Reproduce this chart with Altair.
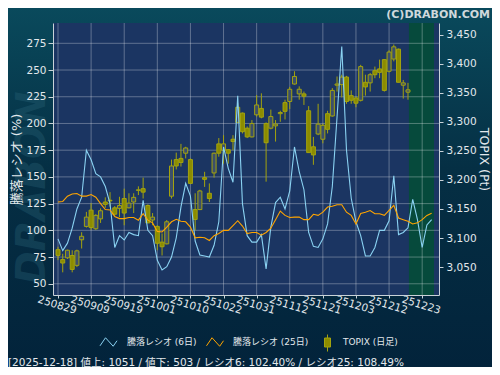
import altair as alt
import pandas as pd

# ---------------- data ----------------
DATE_LABELS = ["250829", "250909", "250919", "251001", "251010", "251022",
               "251031", "251112", "251121", "251203", "251212", "251223"]
TICK_STEP = 7

ratio6 = [92, 81, 88, 102, 120, 131, 175, 166, 153, 150,
          141, 125, 84, 95, 91, 98, 96, 95, 128, 100,
          95, 72, 63, 66, 75, 93, 122, 144, 132, 90,
          77, 76, 75, 86, 108, 178, 158, 145, 226, 125,
          95, 89, 89, 96, 64, 103, 126, 131, 120, 137,
          178, 155, 138, 98, 85, 84, 92, 106, 141, 206,
          272, 175, 130, 108, 95, 76, 76, 84, 100, 100,
          109, 151, 96, 98, 102.4, 129, 110, 84, 105, 110]

ratio25 = [126.5, 127, 132, 134, 134.5, 132, 132, 133.5, 131, 125,
           119.5, 119, 113, 111, 111, 112, 112, 109.5, 115.5, 109.5,
           107, 99, 98.5, 103, 108, 110.3, 108.5, 108, 103, 93,
           93.5, 93, 90.5, 95, 97, 100, 100, 104.5, 109, 104,
           97, 98, 98, 95.5, 98, 102, 110, 118, 114, 112,
           112.4, 112.4, 110, 110, 115, 114, 117, 121.8, 122.5, 124,
           124, 117, 114, 106, 115.8, 117, 118.5, 115.5, 115.5, 114,
           118.7, 123.4, 111.5, 110, 108.49, 106, 107, 110, 114, 116]

t_open = [3080, 3063, 3066, 3070, 3053, 3097, 3120, 3148, 3116, 3133,
          3162, 3165, 3152, 3151, 3168, 3152, 3162, 3182, 3185, 3156,
          3131, 3120, 3093, 3090, 3172, 3235, 3237, 3246, 3235, 3149,
          3149, 3204, 3177, 3212, 3262, 3251, 3252, 3270, 3299, 3315,
          3289, 3274, 3312, 3323, 3297, 3289, 3293, 3314, 3333, 3335,
          3365, 3348, 3348, 3319, 3257, 3279, 3270, 3314, 3310, 3363,
          3364, 3377, 3345, 3341, 3337, 3368, 3367, 3388, 3391, 3407,
          3387, 3408, 3425, 3363, 3351]
t_high = [3085, 3073, 3080, 3079, 3080, 3110, 3145, 3160, 3141, 3151,
          3170, 3179, 3155, 3171, 3185, 3177, 3177, 3189, 3204, 3158,
          3143, 3122, 3108, 3131, 3235, 3247, 3262, 3257, 3237, 3177,
          3183, 3214, 3194, 3247, 3272, 3277, 3253, 3277, 3332, 3316,
          3292, 3303, 3346, 3349, 3299, 3321, 3303, 3319, 3338, 3360,
          3387, 3361, 3352, 3327, 3274, 3331, 3297, 3319, 3358, 3378,
          3381, 3379, 3354, 3344, 3398, 3381, 3384, 3395, 3407, 3408,
          3423, 3433, 3426, 3372, 3367]
t_low = [3062, 3041, 3064, 3041, 3050, 3082, 3118, 3114, 3114, 3126,
         3152, 3154, 3139, 3136, 3122, 3151, 3143, 3174, 3168, 3126,
         3122, 3079, 3070, 3089, 3168, 3218, 3223, 3237, 3194, 3113,
         3148, 3188, 3162, 3204, 3240, 3228, 3228, 3251, 3298, 3280,
         3272, 3273, 3309, 3306, 3197, 3287, 3266, 3300, 3304, 3322,
         3364, 3338, 3329, 3247, 3226, 3277, 3263, 3280, 3309, 3352,
         3342, 3331, 3331, 3325, 3335, 3345, 3352, 3375, 3375, 3352,
         3385, 3404, 3368, 3340, 3338]
t_close = [3070, 3057, 3079, 3046, 3078, 3103, 3136, 3118, 3139, 3147,
           3158, 3164, 3141, 3156, 3143, 3160, 3170, 3183, 3179, 3126,
           3136, 3091, 3085, 3128, 3224, 3224, 3230, 3255, 3194, 3132,
           3181, 3201, 3168, 3246, 3246, 3262, 3246, 3266, 3325, 3283,
           3274, 3297, 3329, 3308, 3264, 3309, 3296, 3316, 3318, 3356,
           3378, 3356, 3344, 3247, 3243, 3296, 3294, 3287, 3354, 3365,
           3377, 3335, 3337, 3332, 3395, 3360, 3381, 3381, 3385, 3354,
           3420, 3429, 3368, 3367, 3355]

future_zone = [74.2, 79.5]
left_ticks = [50, 75, 100, 125, 150, 175, 200, 225, 250, 275]
right_ticks = [3050, 3100, 3150, 3200, 3250, 3300, 3350, 3400, 3450]
x_ticks = [i * TICK_STEP for i in range(len(DATE_LABELS))]

legend_labels = ["騰落レシオ (6日)", "騰落レシオ (25日)", "TOPIX (日足)"]
COPYRIGHT = "(C)DRABON.COM"
FOOTER = "[2025-12-18]  値上: 1051 / 値下: 503 / レシオ6: 102.40% / レシオ25: 108.49%"

# ---------------- styles ----------------
W, H = 386, 272
FONT = "DejaVu Sans, Noto Sans CJK JP"
C_BLUE = "#8ad2f2"
C_ORANGE = "#ffa500"
C_OLIVE = "#8c8c00"
C_OLIVE_EDGE = "#a3a30e"
C_TEXT = "#e2e8ec"
C_AXIS = "#c9d2d8"
C_PLOT = "#1b3562"
C_ZONE = "#064a3c"

lines_df = pd.DataFrame({"idx": list(range(len(ratio6))), "r6": ratio6, "r25": ratio25})
candle_df = pd.DataFrame({"idx": list(range(len(t_open))), "open": t_open,
                          "high": t_high, "low": t_low, "close": t_close})
candle_df["up"] = candle_df["close"] >= candle_df["open"]
zone_df = pd.DataFrame({"start": [future_zone[0]], "end": [future_zone[1]]})
xt_df = pd.DataFrame({"tick": x_ticks})
yt_df = pd.DataFrame({"val": left_ticks})
one = pd.DataFrame({"k": [0]})

xscale = alt.Scale(domain=[0, 79.5], nice=False, zero=False)
yL = alt.Scale(domain=[39.5, 294], nice=False, zero=False)
yR = alt.Scale(domain=[3002, 3470], nice=False, zero=False)

label_expr = "[" + ",".join("'%s'" % s for s in DATE_LABELS) + "][round(datum.value / %d)]" % TICK_STEP
x_axis = alt.Axis(values=x_ticks, labelExpr=label_expr, labelAngle=17, labelAlign="center",
                  labelBaseline="top", labelPadding=2, tickSize=3, grid=False, title=None,
                  labelFontSize=10.5, labelOverlap=False, labelFlush=False, zindex=1)

def X(field):
    return alt.X(field, type="quantitative", scale=xscale, axis=x_axis)

bg = alt.Chart(one).mark_rect(
    color=alt.Gradient(gradient="linear", x1=0, y1=0, x2=0, y2=1,
                       stops=[alt.GradientStop(color="#0a4c5e", offset=0),
                              alt.GradientStop(color="#052f44", offset=0.45),
                              alt.GradientStop(color="#02223a", offset=1)])
).encode(x=alt.value(-53), x2=alt.value(W + 70), y=alt.value(-30), y2=alt.value(H + 90))

watermark = alt.Chart(one).mark_text(
    text="DRABON", angle=270, font="DejaVu Sans", fontSize=40, fontWeight="bold",
    fontStyle="italic", color="#2a6478", opacity=0.35
).encode(x=alt.value(-20), y=alt.value(165))

plotbg = alt.Chart(one).mark_rect(color=C_PLOT).encode(
    x=alt.value(0), x2=alt.value(W), y=alt.value(0), y2=alt.value(H))

zone = alt.Chart(zone_df).mark_rect(color=C_ZONE).encode(
    x=X("start"), x2="end", y=alt.value(0), y2=alt.value(H))

vgrid = alt.Chart(xt_df).mark_rule(color="white", opacity=0.3, strokeWidth=1).encode(x=X("tick"))
hgrid = alt.Chart(yt_df).mark_rule(color="white", opacity=0.3, strokeWidth=1).encode(
    y=alt.Y("val:Q", scale=yL, axis=None))

wick = alt.Chart(candle_df).mark_rule(color=C_OLIVE_EDGE, strokeWidth=1).encode(
    x=X("idx"), y=alt.Y("low:Q", scale=yR, axis=None), y2="high")

body = alt.Chart(candle_df).mark_bar(size=4, stroke=C_OLIVE_EDGE, strokeWidth=1).encode(
    x=X("idx"),
    y=alt.Y("open:Q", scale=yR,
            axis=alt.Axis(orient="right", values=right_ticks, format=",.0f", tickSize=4,
                          labelPadding=3, grid=False, labelFontSize=10.5, zindex=1,
                          title="TOPIX (Pt)", titleAngle=90, titleX=44, titleY=H / 2,
                          titleAlign="center", titleBaseline="middle", titleFontSize=12.5,
                          titleFontWeight="normal")),
    y2="close",
    fill=alt.condition("datum.up", alt.value("#3c4f6a"), alt.value(C_OLIVE)),
)

line6 = alt.Chart(lines_df).mark_line(color=C_BLUE, strokeWidth=1.1).encode(
    x=X("idx"),
    y=alt.Y("r6:Q", scale=yL,
            axis=alt.Axis(orient="left", values=left_ticks, tickSize=5, labelPadding=2,
                          grid=False, labelFontSize=10.5, zindex=1,
                          title="騰落レシオ (%)", titleAngle=270, titleX=-37, titleY=H / 2,
                          titleAlign="center", titleBaseline="middle", titleFontSize=13,
                          titleFontWeight="normal")))

line25 = alt.Chart(lines_df).mark_line(color=C_ORANGE, strokeWidth=1.1).encode(
    x=X("idx"), y=alt.Y("r25:Q", scale=yL, axis=None))

txt_kw = dict(font=FONT, color=C_TEXT, baseline="middle", align="left")

copyright_t = alt.Chart(one).mark_text(
    text=COPYRIGHT, font="DejaVu Sans", fontSize=11, fontWeight="bold", color="#cfd8dc",
    align="right", baseline="middle").encode(x=alt.value(437), y=alt.value(-8.5))

footer_t = alt.Chart(one).mark_text(text=FOOTER, fontSize=10.5, **txt_kw).encode(
    x=alt.value(-45), y=alt.value(340))

ZIG = "M-1,0.45 L-0.35,-0.5 L0.55,0.5 L1,-0.15"
leg_blue = alt.Chart(one).mark_point(shape=ZIG, size=289, filled=False, stroke=C_BLUE,
                                     strokeWidth=1, opacity=1).encode(
    x=alt.value(55.5), y=alt.value(319))
leg_orange = alt.Chart(one).mark_point(shape=ZIG, size=289, filled=False, stroke=C_ORANGE,
                                       strokeWidth=1, opacity=1).encode(
    x=alt.value(162), y=alt.value(319))
leg_wick = alt.Chart(one).mark_rule(color=C_OLIVE_EDGE).encode(
    x=alt.value(274.5), y=alt.value(311.5), y2=alt.value(328.5))
leg_body = alt.Chart(one).mark_rect(color=C_OLIVE, stroke=C_OLIVE_EDGE, strokeWidth=1).encode(
    x=alt.value(271.5), x2=alt.value(277.5), y=alt.value(315), y2=alt.value(324))
leg_t1 = alt.Chart(one).mark_text(text=legend_labels[0], fontSize=9, **txt_kw).encode(
    x=alt.value(74), y=alt.value(319))
leg_t2 = alt.Chart(one).mark_text(text=legend_labels[1], fontSize=9, **txt_kw).encode(
    x=alt.value(180), y=alt.value(319))
leg_t3 = alt.Chart(one).mark_text(text=legend_labels[2], fontSize=9, **txt_kw).encode(
    x=alt.value(290), y=alt.value(319))

chart = alt.layer(
    bg, watermark, plotbg, zone, vgrid, hgrid, wick, body, line6, line25,
    copyright_t, footer_t, leg_blue, leg_orange, leg_wick, leg_body, leg_t1, leg_t2, leg_t3
).resolve_scale(y="independent").properties(
    width=W, height=H,
    autosize=alt.AutoSizeParams(type="none"),
    padding={"left": 45, "top": 15, "right": 53, "bottom": 72},
    background="#04293d",
).configure_view(stroke=None).configure_axis(
    domainColor=C_AXIS, tickColor=C_AXIS, labelColor=C_TEXT, titleColor=C_TEXT,
    labelFont=FONT, titleFont=FONT, domainWidth=1,
)

chart.save("out.html", embed_options={"renderer": "svg", "actions": False})
